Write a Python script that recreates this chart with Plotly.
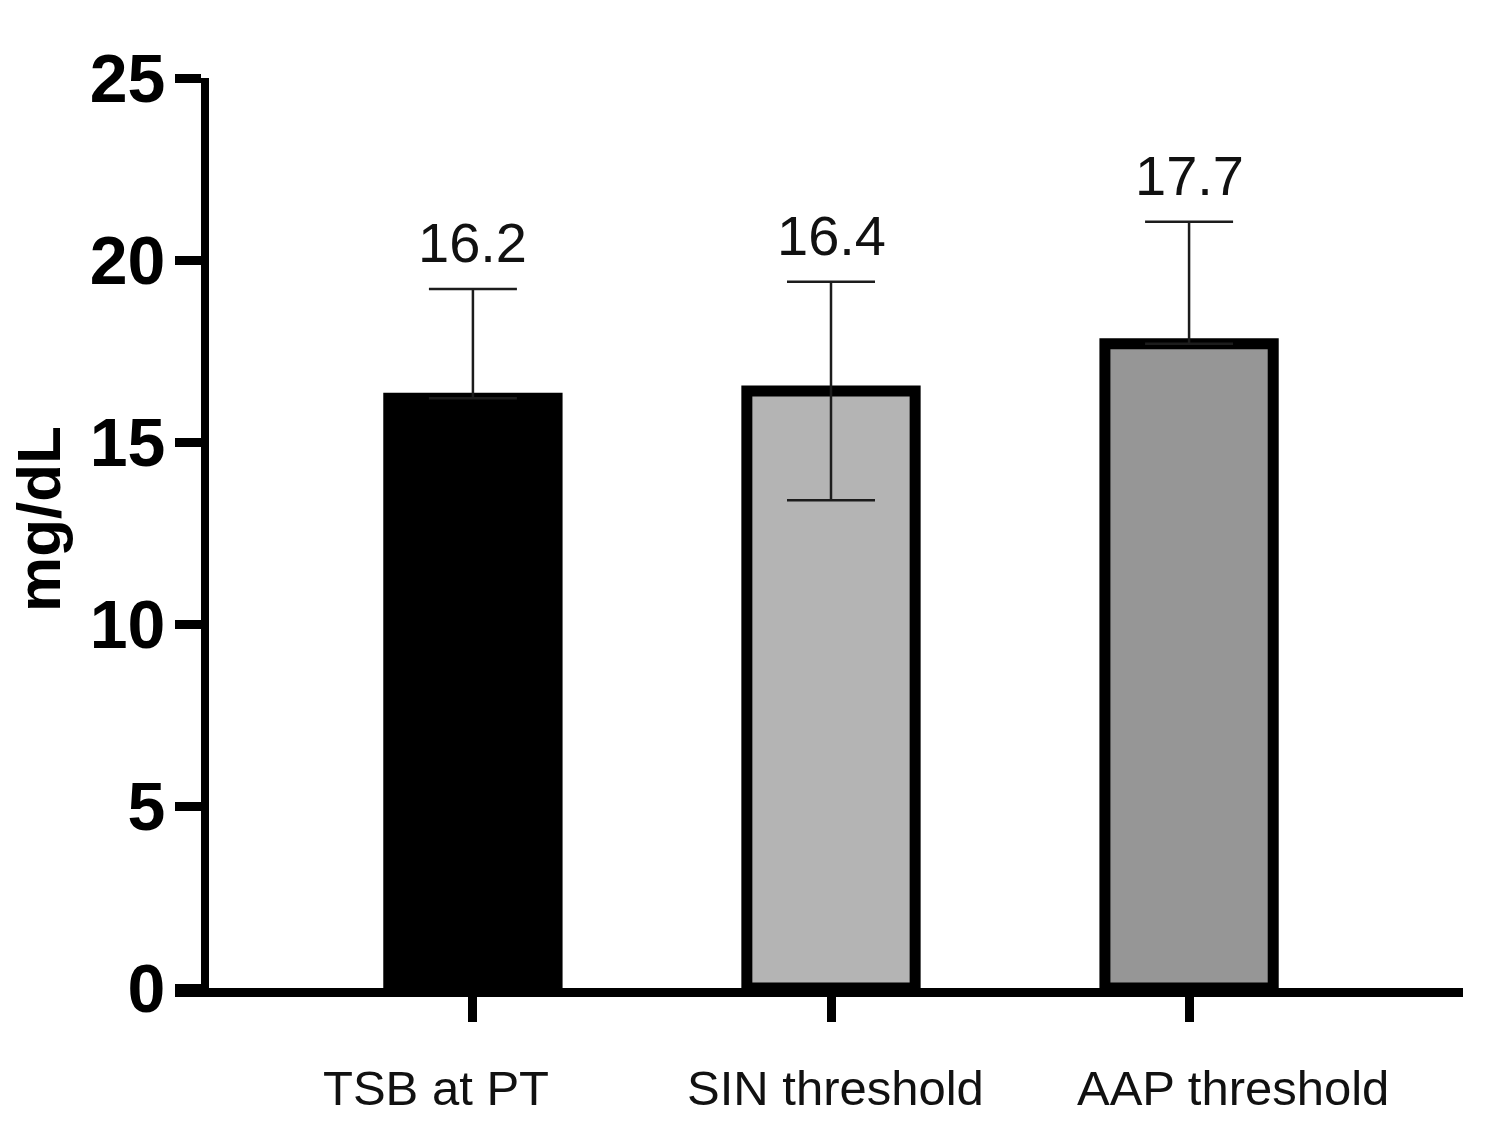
import plotly.graph_objects as go

# ── data ─────────────────────────────────────────────────────────────
categories = ["TSB at PT", "SIN threshold", "AAP threshold"]
means = [16.2, 16.4, 17.7]
err_up = [3.0, 3.0, 3.35]
err_down = [0.0, 3.0, 0.0]   # lower whiskers only visible on the SIN bar
y_ticks = [0, 5, 10, 15, 20, 25]

# ── style ────────────────────────────────────────────────────────────
FILL = ["#000000", "#b4b4b4", "#969696"]
LABEL_SHIFT = [-37, 4, 44]   # x-label offsets (px) as in the original
FONT = "Liberation Sans, Arial, sans-serif"
W, H = 1488, 1134
OFF = 8  # page body margin


def px_x(p):
    return (p - OFF) / W


def px_y(p):
    return (H - (p - OFF)) / H


fig = go.Figure()

fig.add_trace(
    go.Bar(
        x=categories,
        y=means,
        width=0.47,
        marker=dict(color=FILL, line=dict(color="black", width=11)),
        error_y=dict(
            type="data",
            symmetric=False,
            array=err_up,
            arrayminus=err_down,
            width=44,
            thickness=2.5,
            color="#1c1c1c",
        ),
        showlegend=False,
        hoverinfo="skip",
    )
)

# value labels above the error bars
for cat, m, e in zip(categories, means, err_up):
    fig.add_annotation(
        x=cat, y=m + e, xref="x", yref="y",
        text=f"{m:.1f}", showarrow=False,
        yanchor="bottom", yshift=13,
        font=dict(family=FONT, size=56, color="#111111"),
    )

# category labels, set low under the axis
for cat, dx in zip(categories, LABEL_SHIFT):
    fig.add_annotation(
        x=cat, y=px_y(1088), xref="x", yref="paper",
        text=cat, showarrow=False, xshift=dx,
        yanchor="middle",
        font=dict(family=FONT, size=49, color="#111111"),
    )

# y title
fig.add_annotation(
    x=px_x(38), y=px_y(519), xref="paper", yref="paper",
    xanchor="center", yanchor="middle",
    text="<b>mg/dL</b>", textangle=-90, showarrow=False,
    font=dict(family=FONT, size=62, color="black"),
)

fig.update_layout(
    width=W, height=H,
    margin=dict(l=0, r=0, t=0, b=0),
    paper_bgcolor="white",
    plot_bgcolor="white",
    font=dict(family=FONT, color="black"),
    xaxis=dict(
        type="category",
        domain=[px_x(175), px_x(1463)],
        range=[-0.832, 2.765],
        showline=True, linecolor="black", linewidth=9,
        ticks="outside", ticklen=25, tickwidth=9, tickcolor="black",
        showticklabels=False,
        showgrid=False, zeroline=False,
        automargin=False,
    ),
    yaxis=dict(
        domain=[px_y(988), px_y(78)],
        range=[0, 25],
        anchor="free", position=px_x(205),
        tickvals=y_ticks,
        showline=True, linecolor="black", linewidth=8,
        ticks="outside", ticklen=26, tickwidth=9, tickcolor="black",
        tickfont=dict(family=FONT, size=68, color="black", weight="bold"),
        ticklabelstandoff=-4,
        showgrid=False, zeroline=False,
        automargin=False,
    ),
)

fig.write_html("out.html")
